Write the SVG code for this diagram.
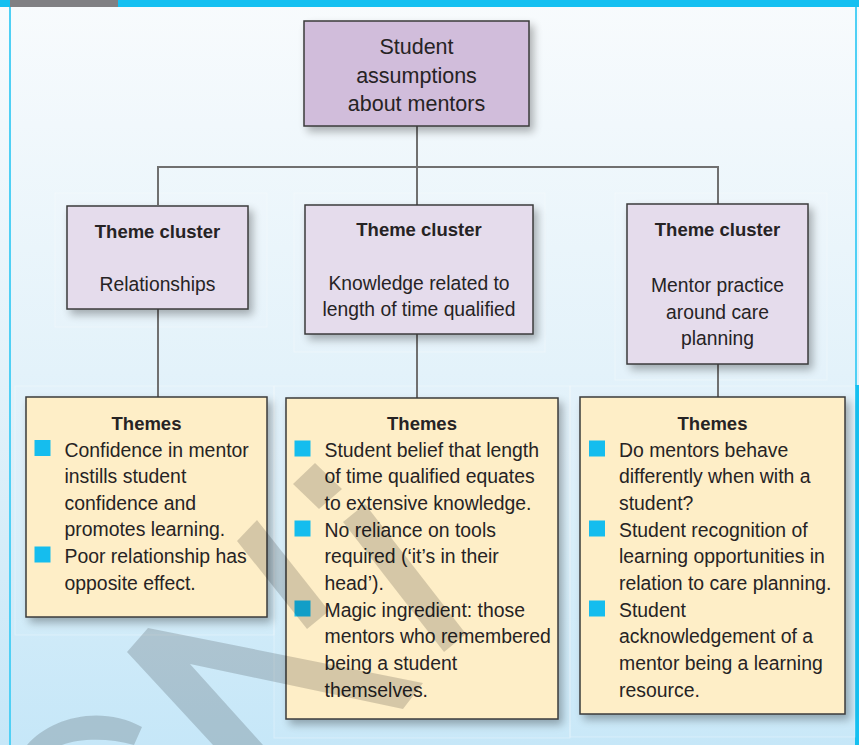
<svg xmlns="http://www.w3.org/2000/svg" width="859" height="745" viewBox="0 0 859 745">
<defs>
<linearGradient id="bg" x1="0" y1="0" x2="0" y2="1">
<stop offset="0" stop-color="#f8fbfd"/>
<stop offset="0.5" stop-color="#e3f2fa"/>
<stop offset="1" stop-color="#c6e7f8"/>
</linearGradient>
<filter id="sh" x="-20%" y="-20%" width="150%" height="150%">
<feGaussianBlur in="SourceAlpha" stdDeviation="4"/>
<feOffset dx="4" dy="5" result="b"/>
<feComponentTransfer><feFuncA type="linear" slope="0.3"/></feComponentTransfer>
<feMerge><feMergeNode/><feMergeNode in="SourceGraphic"/></feMerge>
</filter>
<style>
.t{font-family:"Liberation Sans",Arial,sans-serif;fill:#262324}
.top{font-size:21.5px;text-anchor:middle}
.cl{font-size:19.3px;text-anchor:middle}
.clb{font-size:18.5px;font-weight:bold;text-anchor:middle}
.thb{font-size:18.5px;font-weight:bold;text-anchor:middle}
.th{font-size:19.4px}
.box{stroke:#3b3b3b;stroke-width:1.5}
.root{fill:#d1bddb}
.clu{fill:#e5dcec}
.yel{fill:#feeec7}
.bul{fill:#15bdee}
.pan{fill:#ffffff;fill-opacity:0.06;stroke:#ffffff;stroke-opacity:0.3;stroke-width:1}
.con{fill:none;stroke:#707070;stroke-width:2}
.wm{fill:#000000;fill-opacity:0.16}
</style>
</defs>
<rect x="0" y="0" width="859" height="745" fill="url(#bg)"/>
<rect x="0" y="0" width="859" height="7" fill="#15c0f1"/>
<rect x="10" y="0" width="108" height="7" fill="#808083"/>
<rect x="9" y="7" width="2" height="738" fill="#4fd0f5"/>
<rect x="855" y="7" width="2" height="378" fill="#4fd0f5"/>
<rect x="855" y="385" width="4" height="360" fill="#15c0f1"/>

<g id="panels">
<rect class="pan" x="55" y="193" width="212" height="134"/>
<rect class="pan" x="294" y="193" width="251" height="159"/>
<rect class="pan" x="615" y="193" width="212" height="187"/>
<rect class="pan" x="15" y="386" width="259" height="249"/>
<rect class="pan" x="274" y="386" width="296" height="352"/>
<rect class="pan" x="570" y="386" width="285" height="351"/>
</g>

<g id="connectors">
<path class="con" d="M417 126 V205"/>
<path class="con" d="M158 205 V167 H718 V204"/>
<path class="con" d="M158 309 V397"/>
<path class="con" d="M417 334 V398"/>
<path class="con" d="M718 364 V397"/>
</g>

<g id="root">
<rect class="box root" x="304" y="21" width="225" height="105" filter="url(#sh)"/>
<text class="t top" x="416.5" y="54">Student</text>
<text class="t top" x="416.5" y="82.5">assumptions</text>
<text class="t top" x="416.5" y="111">about mentors</text>
</g>

<g id="cluster-relationships">
<rect class="box clu" x="67" y="206" width="181" height="103" filter="url(#sh)"/>
<text class="t clb" x="157.5" y="237.5">Theme cluster</text>
<text class="t cl" x="157.5" y="291">Relationships</text>
</g>

<g id="cluster-knowledge">
<rect class="box clu" x="305" y="205" width="228" height="129" filter="url(#sh)"/>
<text class="t clb" x="419" y="236">Theme cluster</text>
<text class="t cl" x="419" y="289.5">Knowledge related to</text>
<text class="t cl" x="419" y="316">length of time qualified</text>
</g>

<g id="cluster-practice">
<rect class="box clu" x="627" y="204" width="181" height="160" filter="url(#sh)"/>
<text class="t clb" x="717.5" y="236">Theme cluster</text>
<text class="t cl" x="717.5" y="292">Mentor practice</text>
<text class="t cl" x="717.5" y="318.5">around care</text>
<text class="t cl" x="717.5" y="345">planning</text>
</g>

<g id="themes-relationships">
<rect class="box yel" x="26" y="397" width="241" height="220" filter="url(#sh)"/>
<text class="t thb" x="146.5" y="429.5">Themes</text>
<rect class="bul" x="34.5" y="440" width="16" height="16"/>
<rect class="bul" x="34.5" y="546.5" width="16" height="16"/>
<text class="t th" x="64.5" y="456.5">Confidence in mentor</text>
<text class="t th" x="64.5" y="483">instills student</text>
<text class="t th" x="64.5" y="509.5">confidence and</text>
<text class="t th" x="64.5" y="536">promotes learning.</text>
<text class="t th" x="64.5" y="562.8">Poor relationship has</text>
<text class="t th" x="64.5" y="589.5">opposite effect.</text>
</g>

<g id="themes-knowledge">
<rect class="box yel" x="286" y="398" width="272" height="321" filter="url(#sh)"/>
<text class="t thb" x="422" y="429.5">Themes</text>
<rect class="bul" x="294.5" y="440.5" width="16" height="16"/>
<rect class="bul" x="294.5" y="520.5" width="16" height="16"/>
<rect class="bul" x="294.5" y="600.5" width="16" height="16"/>
<text class="t th" x="324.5" y="456.5">Student belief that length</text>
<text class="t th" x="324.5" y="483.2">of time qualified equates</text>
<text class="t th" x="324.5" y="509.8">to extensive knowledge.</text>
<text class="t th" x="324.5" y="536.5">No reliance on tools</text>
<text class="t th" x="324.5" y="563.2">required (‘it’s in their</text>
<text class="t th" x="324.5" y="589.8">head’).</text>
<text class="t th" x="324.5" y="616.5">Magic ingredient: those</text>
<text class="t th" x="324.5" y="643.2">mentors who remembered</text>
<text class="t th" x="324.5" y="669.8">being a student</text>
<text class="t th" x="324.5" y="696.5">themselves.</text>
</g>

<g id="themes-practice">
<rect class="box yel" x="580" y="397" width="265" height="317" filter="url(#sh)"/>
<text class="t thb" x="712.5" y="429.5">Themes</text>
<rect class="bul" x="589" y="440.5" width="16" height="16"/>
<rect class="bul" x="589" y="520.5" width="16" height="16"/>
<rect class="bul" x="589" y="600.5" width="16" height="16"/>
<text class="t th" x="619" y="456.5">Do mentors behave</text>
<text class="t th" x="619" y="483.2">differently when with a</text>
<text class="t th" x="619" y="509.8">student?</text>
<text class="t th" x="619" y="536.5">Student recognition of</text>
<text class="t th" x="619" y="563.2">learning opportunities in</text>
<text class="t th" x="619" y="589.8">relation to care planning.</text>
<text class="t th" x="619" y="616.5">Student</text>
<text class="t th" x="619" y="643.2">acknowledgement of a</text>
<text class="t th" x="619" y="669.8">mentor being a learning</text>
<text class="t th" x="619" y="696.5">resource.</text>
</g>

<g id="watermark">
<polygon class="wm" points="293,484 315,463 342,489 319,509"/>
<polygon class="wm" points="343,522 365,504 466,634 444,652"/>
<polygon class="wm" points="237,541 257,520 329,611 307,629"/>
<polygon class="wm" points="127,652 148,628 423,683 403,709 190,664 263,745 213,745"/>
<path class="wm" d="M27 745 C50 718 100 704 142 727 L134 745 C110 738 80 738 62 745 Z"/>
</g>
</svg>
